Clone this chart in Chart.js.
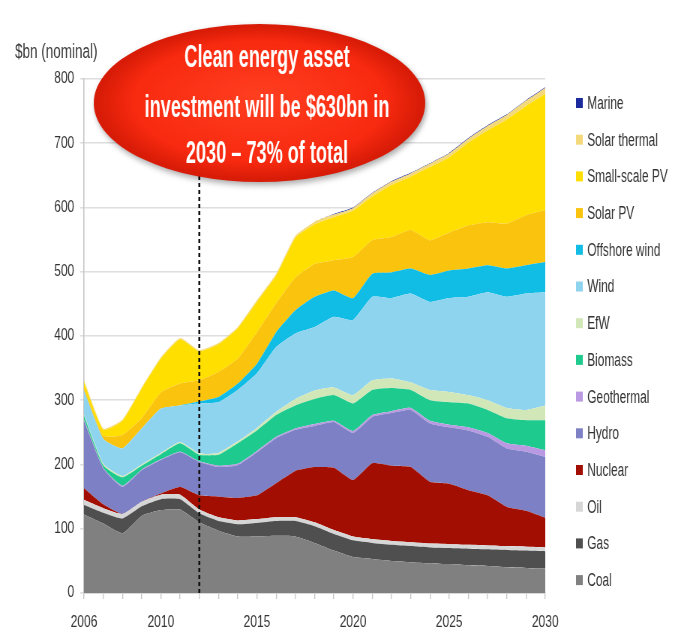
<!DOCTYPE html>
<html>
<head>
<meta charset="utf-8">
<script src="https://cdn.jsdelivr.net/npm/chart.js@4.4.1/dist/chart.umd.min.js"></script>
<style>
  html, body { margin: 0; padding: 0; background: #ffffff; overflow: hidden; }
  #wrap { position: absolute; left: 0; top: 0; width: 904px; height: 640px;
          transform: scaleX(0.75); transform-origin: 0 0; }
</style>
</head>
<body>
<div id="wrap"><canvas id="c"></canvas></div>
<script>
// ---- Data (values in $bn, nominal) ----
const years = ['2006','2007','2008','2009','2010','2011','2012','2013','2014','2015','2016','2017','2018',
               '2019','2020','2021','2022','2023','2024','2025','2026','2027','2028','2029','2030'];
const shownYears = ['2006','2010','2015','2020','2025','2030'];
const markerYear = '2012';

const coal         = [122,108,93,120,129,130,110,97,88,88,89,88,78,66,56,53,50,48,46,45,43,42,40,39,38];
const gas          = [15,17,23,15,17,16,14,15,19,21,23,24,26,26,26,25,25,25,25,25,26,26,27,27,27];
const oil          = [8,7,7,7,7,7,6,6,6,6,6,6,6,6,6,6,6,6,6,6,6,6,6,6,6];
const nuclear      = [18,6,0,0,2,12,22,32,35,37,53,72,86,97,88,118,117,117,96,94,85,78,61,56,46];
const hydro        = [105,56,42,49,52,54,52,46,51,67,70,64,64,71,73,72,82,89,91,88,93,91,91,92,95];
const geothermal   = [2,1,2,1,1,1,1,2,2,2,2,2,3,2,3,3,3,3,4,4,5,6,8,9,10];
const biomass      = [6,4,13,6,8,13,10,17,32,32,34,36,39,40,43,39,36,28,32,35,37,36,39,40,47];
const efw          = [2,2,2,2,2,2,2,3,3,4,5,10,13,12,13,15,15,12,16,16,13,15,16,16,23];
const wind         = [37,39,43,56,69,57,78,79,80,85,101,102,99,110,117,130,125,138,137,146,153,168,173,181,176];
const offshoreWind = [0,0,0,0,0,0,3,8,10,15,23,36,47,41,34,36,40,39,42,43,44,42,44,44,47];
const solarPV      = [5,5,21,16,25,34,33,39,39,49,45,51,51,47,64,52,55,60,54,59,67,67,70,78,81];
const smallScalePV = [8,9,22,46,53,69,45,43,47,47,43,62,62,67,72,68,81,83,114,117,129,143,162,170,181];
const solarThermal = [3,2,2,2,2,2,2,2,2,3,3,3,4,4,4,5,5,5,5,6,6,7,7,8,9];
const marine       = [0,0,0,0,0,0,0,0,0,0,0,0,0,1,1,1,1,1,1,1,1,1,1,1,1];

const seriesNames  = ['Coal','Gas','Oil','Nuclear','Hydro','Geothermal','Biomass','EfW','Wind',
                      'Offshore wind','Solar PV','Small-scale PV','Solar thermal','Marine'];
const seriesValues = [coal,gas,oil,nuclear,hydro,geothermal,biomass,efw,wind,
                      offshoreWind,solarPV,smallScalePV,solarThermal,marine];
const seriesColors = ['#808080','#4f4f4f','#d6d6d6','#a20f02','#7d80c4','#b99ae2','#1fca8e','#d2e7b8',
                      '#8fd4ef','#12bde5','#fac30e','#ffdf00','#f3d97a','#1b2a9c'];

const axisTitle = '$bn (nominal)';
const calloutLines = ['Clean energy asset', 'investment will be $630bn in', '2030 \u2013 73% of total'];

Chart.defaults.font.family = '"Liberation Sans", Arial, Helvetica, sans-serif';
Chart.defaults.color = '#333';

const datasets = seriesNames.map((name, i) => ({
  label: name,
  data: seriesValues[i],
  backgroundColor: seriesColors[i],
  borderColor: seriesColors[i],
  borderWidth: 0,
  pointRadius: 0,
  pointHoverRadius: 0,
  tension: 0.15,
  fill: i === 0 ? 'origin' : '-1'
}));

// custom drawing: title, legend, dashed marker, callout
const decorations = {
  id: 'decorations',
  afterDatasetsDraw(chart) {
    const ctx = chart.ctx;
    const xs = chart.scales.x, ca = chart.chartArea;
    const xm = xs.getPixelForValue(years.indexOf(markerYear));
    ctx.save();
    ctx.strokeStyle = '#111';
    ctx.lineWidth = 2.6;
    ctx.setLineDash([4, 3]);
    ctx.beginPath();
    ctx.moveTo(xm, 120);
    ctx.lineTo(xm, ca.bottom);
    ctx.stroke();
    ctx.restore();
  },
  afterDraw(chart) {
    const ctx = chart.ctx;
    const ca = chart.chartArea;
    // axis title
    ctx.save();
    ctx.fillStyle = '#3a3a3a';
    ctx.font = '20px "Liberation Sans", Arial, sans-serif';
    ctx.textBaseline = 'alphabetic';
    ctx.translate(20, 58);
    ctx.scale(0.9, 1);
    ctx.fillText(axisTitle, 0, 0);
    ctx.restore();

    // legend (reverse order: Marine at top, Coal at bottom)
    const ds = chart.data.datasets;
    const top = 103, step = 36.7, bx = 768, tx = 783;
    for (let k = 0; k < ds.length; k++) {
      const d = ds[ds.length - 1 - k];
      const y = top + k * step;
      ctx.save();
      ctx.fillStyle = d.backgroundColor;
      ctx.fillRect(bx, y - 5, 9, 10);
      ctx.fillStyle = '#333';
      ctx.font = '18px "Liberation Sans", Arial, sans-serif';
      ctx.textBaseline = 'middle';
      ctx.translate(tx, y);
      ctx.scale(0.88, 1);
      ctx.fillText(d.label, 0, 1);
      ctx.restore();
    }

    // callout ellipse
    const cx = ca.left + 234, cy = 103, rx = 221, ry = 79;
    ctx.save();
    ctx.shadowColor = 'rgba(0,0,0,0.35)';
    ctx.shadowBlur = 6;
    ctx.shadowOffsetX = 2;
    ctx.shadowOffsetY = 3;
    ctx.beginPath();
    ctx.ellipse(cx, cy, rx, ry, 0, 0, Math.PI * 2);
    ctx.fillStyle = '#d81c08';
    ctx.fill();
    ctx.restore();

    ctx.save();
    ctx.beginPath();
    ctx.ellipse(cx, cy, rx - 2, ry - 2, 0, 0, Math.PI * 2);
    ctx.clip();
    ctx.translate(cx, cy);
    ctx.scale(1, ry / rx);
    const g = ctx.createRadialGradient(0, -20, 10, 0, 0, rx);
    g.addColorStop(0, '#ff3d1f');
    g.addColorStop(0.75, '#f82a10');
    g.addColorStop(1, '#d41a06');
    ctx.fillStyle = g;
    ctx.fillRect(-rx, -rx, rx * 2, rx * 2);
    ctx.restore();

    ctx.save();
    ctx.fillStyle = '#ffffff';
    ctx.font = 'bold 31px "Liberation Sans", Arial, sans-serif';
    ctx.textAlign = 'center';
    ctx.textBaseline = 'alphabetic';
    const tcx = ca.left + 244;
    const baselines = [67, 117, 163];
    calloutLines.forEach((t, i) => {
      ctx.save();
      ctx.translate(tcx, baselines[i]);
      ctx.scale(0.78, 1);
      ctx.fillText(t, 0, 0);
      ctx.restore();
    });
    ctx.restore();
  }
};

new Chart(document.getElementById('c'), {
  type: 'line',
  data: { labels: years, datasets },
  options: {
    responsive: true,
    maintainAspectRatio: false,
    animation: false,
    layout: { padding: { top: 79, right: 177, bottom: 0, left: 0 } },
    plugins: {
      legend: { display: false },
      tooltip: { enabled: false },
      filler: { propagate: false }
    },
    scales: {
      x: {
        type: 'category',
        offset: false,
        grid: { display: true, drawOnChartArea: false, drawTicks: true, tickLength: 6, color: '#c4c4c4', lineWidth: 1.3 },
        border: { display: true, color: '#c4c4c4', width: 1.5 },
        ticks: {
          autoSkip: false, maxRotation: 0, minRotation: 0, padding: 14,
          font: { size: 16 }, color: '#333',
          callback: (v, i) => shownYears.includes(years[i]) ? years[i] : ''
        },
        afterFit: s => { s.height = 47; }
      },
      y: {
        stacked: true,
        min: 0, max: 800,
        grid: { color: '#dedede', lineWidth: 1.6, tickLength: 5 },
        border: { display: true, color: '#c4c4c4', width: 1.5 },
        ticks: { stepSize: 100, padding: 8, font: { size: 16 }, color: '#333' },
        afterFit: s => { s.width = 112; }
      }
    }
  },
  plugins: [decorations]
});
</script>
</body>
</html>
